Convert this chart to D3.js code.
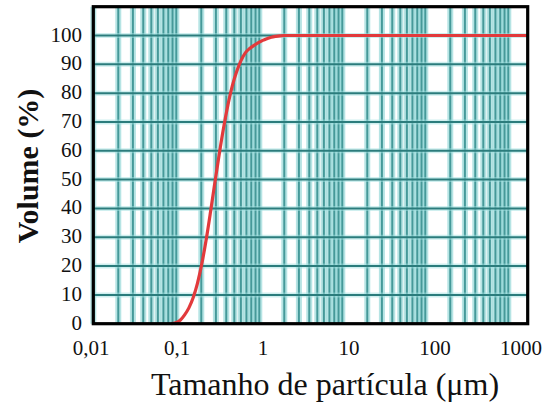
<!DOCTYPE html>
<html>
<head>
<meta charset="utf-8">
<script src="https://cdn.jsdelivr.net/npm/d3@7"></script>
<style>
  body { margin: 0; background: #fff; }
  svg { display: block; }
</style>
</head>
<body>
<div id="chart"></div>
<script>
// particle size (µm) and cumulative volume (%)
var sizes  = [0.0794, 0.089, 0.1, 0.112, 0.126, 0.141, 0.158, 0.178, 0.2, 0.224, 0.251, 0.282, 0.316, 0.355, 0.398, 0.447, 0.501, 0.562, 0.631, 0.708, 0.794, 0.891, 1.0, 1.12, 1.26, 1.41, 1.58, 10, 100, 1000];
var volume = [0,      0.3,   1.2, 3,     5.5,   9,     14,    21,    29.5, 39,  49,    59,    68,    76,    82.5,  87.5,  91.3,  94,    95.5,  96.6,  97.5,  98.3,  98.9, 99.4, 99.7, 99.9, 100,  100, 100, 100];

var xTicks = [0.01, 0.1, 1, 10, 100, 1000];
var xTickLabels = ["0,01", "0,1", "1", "10", "100", "1000"];
var yTicks = [0, 10, 20, 30, 40, 50, 60, 70, 80, 90, 100];

var W = 547, H = 405;
var plot = {left: 93.3, right: 527.7, top: 6.7, bottom: 323.7};

var svg = d3.select("#chart").append("svg")
  .attr("width", W)
  .attr("height", H);

var x = d3.scaleLog().domain([0.01, 1000]).range([plot.left, plot.right]);
var y = d3.scaleLinear().domain([0, 110]).range([plot.bottom, plot.top]);

// the log paper grid behind the curve is a bit narrower than the axis
var gx = d3.scaleLog().domain([0.01, 1000]).range([plot.left, plot.left + 5 * 83]);
// tick labels sit a little left of the axis positions
var lx = d3.scaleLog().domain([0.01, 1000]).range([91, 521]);

var gridVals = [];
for (var e = -2; e < 3; e++) {
  for (var m = 1; m < 10; m++) {
    gridVals.push(m * Math.pow(10, e));
  }
}
gridVals.push(1000);

var grid = svg.append("g");

grid.selectAll("line.halo")
  .data(gridVals)
  .enter()
  .append("line")
  .attr("class", "halo")
  .attr("x1", function(d) { return gx(d); })
  .attr("x2", function(d) { return gx(d); })
  .attr("y1", plot.top)
  .attr("y2", plot.bottom)
  .attr("stroke", "#8fd6d5")
  .attr("stroke-opacity", 0.65)
  .attr("stroke-width", 6);

grid.selectAll("line.v")
  .data(gridVals)
  .enter()
  .append("line")
  .attr("class", "v")
  .attr("x1", function(d) { return gx(d); })
  .attr("x2", function(d) { return gx(d); })
  .attr("y1", plot.top)
  .attr("y2", plot.bottom)
  .attr("stroke", "#318c8c")
  .attr("stroke-opacity", 0.85)
  .attr("stroke-width", 2);

grid.selectAll("line.hhalo")
  .data(yTicks.slice(1))
  .enter()
  .append("line")
  .attr("class", "hhalo")
  .attr("x1", plot.left)
  .attr("x2", plot.right)
  .attr("y1", function(d) { return y(d); })
  .attr("y2", function(d) { return y(d); })
  .attr("stroke", "#9fe0df")
  .attr("stroke-opacity", 0.5)
  .attr("stroke-width", 5);

grid.selectAll("line.h")
  .data(yTicks.slice(1))
  .enter()
  .append("line")
  .attr("class", "h")
  .attr("x1", plot.left)
  .attr("x2", plot.right)
  .attr("y1", function(d) { return y(d); })
  .attr("y2", function(d) { return y(d); })
  .attr("stroke", "#2b7c7c")
  .attr("stroke-width", 2);

// curve
var pts = sizes.map(function(s, i) { return [s, volume[i]]; });

svg.append("path")
  .datum(pts)
  .attr("fill", "none")
  .attr("stroke", "#e23a3c")
  .attr("stroke-width", 3.2)
  .attr("stroke-linejoin", "round")
  .attr("d", d3.line()
    .x(function(d) { return x(d[0]); })
    .y(function(d) { return y(d[1]); })
    .curve(d3.curveMonotoneX));

// frame
svg.append("rect")
  .attr("x", plot.left)
  .attr("y", plot.top)
  .attr("width", plot.right - plot.left)
  .attr("height", plot.bottom - plot.top)
  .attr("fill", "none")
  .attr("stroke", "#000")
  .attr("stroke-width", 3.2);

var font = "'Liberation Serif', 'DejaVu Serif', serif";

svg.selectAll("text.xt")
  .data(xTicks)
  .enter()
  .append("text")
  .attr("class", "xt")
  .attr("x", function(d) { return lx(d); })
  .attr("y", 355)
  .attr("text-anchor", "middle")
  .style("font-family", font)
  .style("font-size", "21px")
  .style("fill", "#111")
  .text(function(d, i) { return xTickLabels[i]; });

svg.selectAll("text.yt")
  .data(yTicks)
  .enter()
  .append("text")
  .attr("class", "yt")
  .attr("x", 82)
  .attr("y", function(d) { return y(d) + 6; })
  .attr("text-anchor", "end")
  .style("font-family", font)
  .style("font-size", "21px")
  .style("fill", "#111")
  .text(function(d) { return d; });

svg.append("text")
  .attr("x", 325)
  .attr("y", 395)
  .attr("text-anchor", "middle")
  .style("font-family", font)
  .style("font-size", "32px")
  .style("fill", "#111")
  .text("Tamanho de partícula (μm)");

svg.append("text")
  .attr("transform", "translate(38,166) rotate(-90)")
  .attr("text-anchor", "middle")
  .style("font-family", font)
  .style("font-size", "30px")
  .style("font-weight", "bold")
  .style("fill", "#111")
  .text("Volume (%)");
</script>
</body>
</html>
